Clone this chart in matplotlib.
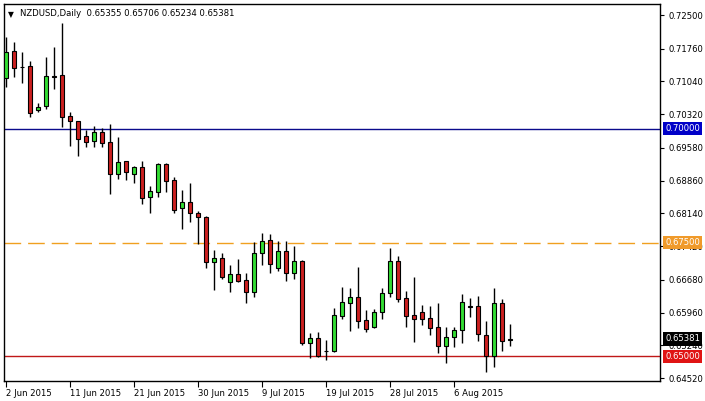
import matplotlib
matplotlib.use('Agg')
import matplotlib.pyplot as plt
from matplotlib.ticker import FixedLocator, FixedFormatter

# NZDUSD daily bars (broker with Sunday bars), 2 Jun 2015 .. 14 Aug 2015
opens = [0.71109, 0.71709, 0.71368, 0.71379, 0.70406, 0.70493, 0.71170, 0.71175,
         0.70280, 0.70164, 0.69841, 0.69724, 0.69922, 0.69702, 0.68999, 0.69285,
         0.68999, 0.69153, 0.68493, 0.68617, 0.69225, 0.68874, 0.68269, 0.68386,
         0.68148, 0.68054, 0.67078, 0.67153, 0.66625, 0.66801, 0.66676, 0.66419,
         0.67263, 0.67548, 0.66933, 0.67313, 0.66823, 0.67093, 0.65298, 0.65395,
         0.65126, 0.65122, 0.65891, 0.66177, 0.66302, 0.65790, 0.65650, 0.65966,
         0.66384, 0.67093, 0.66274, 0.65907, 0.65968, 0.65834, 0.65636, 0.65232,
         0.65417, 0.65570, 0.66095, 0.66104, 0.65467, 0.65012, 0.66164, 0.65355]
highs = [0.72023, 0.71913, 0.71693, 0.71489, 0.70559, 0.71584, 0.71790, 0.72318,
         0.70368, 0.70170, 0.69973, 0.70067, 0.70010, 0.70111, 0.69825, 0.69296,
         0.69188, 0.69285, 0.68735, 0.69241, 0.69241, 0.68929, 0.68654, 0.68814,
         0.68186, 0.68082, 0.67335, 0.67263, 0.67006, 0.67137, 0.66823, 0.67518,
         0.67715, 0.67687, 0.67533, 0.67533, 0.67423, 0.67115, 0.65504, 0.65540,
         0.65351, 0.66054, 0.66515, 0.66493, 0.66955, 0.66017, 0.66032, 0.66493,
         0.67386, 0.67203, 0.66434, 0.66742, 0.66126, 0.66111, 0.66177, 0.65636,
         0.65650, 0.66368, 0.66274, 0.66324, 0.65781, 0.66493, 0.66252, 0.65706]
lows = [0.70924, 0.71144, 0.71012, 0.70252, 0.70375, 0.70428, 0.70867, 0.70045,
        0.69628, 0.69408, 0.69592, 0.69606, 0.69606, 0.68573, 0.68889, 0.68874,
        0.68801, 0.68353, 0.68142, 0.68496, 0.68617, 0.68155, 0.67801, 0.67946,
        0.67467, 0.66933, 0.66456, 0.66698, 0.66419, 0.66638, 0.66177, 0.66309,
        0.67006, 0.66823, 0.66874, 0.66660, 0.66691, 0.65247, 0.64955, 0.64990,
        0.64924, 0.65100, 0.65812, 0.65562, 0.65614, 0.65540, 0.65628, 0.65819,
        0.66309, 0.66199, 0.65650, 0.65320, 0.65687, 0.65467, 0.65078, 0.64858,
        0.65210, 0.65285, 0.65856, 0.65342, 0.64660, 0.64757, 0.65122, 0.65234]
closes = [0.71693, 0.71342, 0.71357, 0.70340, 0.70478, 0.71153, 0.71148, 0.70265,
          0.70164, 0.69768, 0.69715, 0.69922, 0.69693, 0.68999, 0.69276, 0.69043,
          0.69153, 0.68485, 0.68625, 0.69225, 0.68858, 0.68225, 0.68386, 0.68142,
          0.68054, 0.67078, 0.67159, 0.66748, 0.66801, 0.66660, 0.66419, 0.67263,
          0.67533, 0.67021, 0.67313, 0.66823, 0.67093, 0.65298, 0.65395, 0.65006,
          0.65115, 0.65900, 0.66192, 0.66302, 0.65781, 0.65606, 0.65973, 0.66384,
          0.67093, 0.66258, 0.65891, 0.65812, 0.65825, 0.65628, 0.65232, 0.65417,
          0.65577, 0.66192, 0.66088, 0.65482, 0.65012, 0.66164, 0.65342, 0.65381]

date_labels = ['2 Jun 2015', '11 Jun 2015', '21 Jun 2015', '30 Jun 2015',
               '9 Jul 2015', '19 Jul 2015', '28 Jul 2015', '6 Aug 2015']
date_positions = [0, 8, 16, 24, 32, 40, 48, 56]
price_ticks = [0.72500, 0.71760, 0.71040, 0.70320, 0.69580, 0.68860,
               0.68140, 0.67420, 0.66680, 0.65960, 0.65240, 0.64520]
level_prices = [0.70000, 0.67500, 0.65000]
level_colors = ['#0A0A8C', '#F0A020', '#C01818']
level_styles = ['-', (0, (12, 5)), '-']
label_bg = ['#0000C8', '#F09A2A', '#E01414']
last_price = 0.65381
title = 'NZDUSD,Daily  0.65355 0.65706 0.65234 0.65381'
fs = 6.1

fig = plt.figure(figsize=(7.05, 4.01), dpi=100)
fig.patch.set_facecolor('white')
ax = fig.add_axes([4 / 705, 20 / 401, 656 / 705, 377 / 401])
ax.set_xlim(-0.25, 81.75)
ax.set_ylim(0.64456, 0.72742)

# levels
for p, c, ls in zip(level_prices, level_colors, level_styles):
    ax.axhline(p, color=c, lw=1.0, linestyle=ls, zorder=1)

# candles
x = list(range(len(opens)))
ax.vlines(x, lows, highs, color='black', lw=1.0, zorder=2)
for i in x:
    o, c = opens[i], closes[i]
    col = '#33DD33' if c > o else '#CC2020'
    h = c - o
    if abs(h) < 0.00005:
        ax.hlines(o, i - 0.32, i + 0.32, color='black', lw=1.2, zorder=3)
    else:
        ax.bar(i, h, bottom=o, width=0.6, color=col, edgecolor='black', lw=0.8, zorder=3)

for s in ax.spines.values():
    s.set_color('black')
    s.set_linewidth(1.0)

ax.yaxis.tick_right()
ax.yaxis.set_major_locator(FixedLocator(price_ticks))
ax.yaxis.set_major_formatter(FixedFormatter(['%.5f' % t for t in price_ticks]))
ax.tick_params(axis='y', direction='out', length=3, width=0.8, pad=3, labelsize=fs)
ax.set_xticks(date_positions)
ax.set_xticklabels(date_labels, ha='left')
ax.tick_params(axis='x', direction='out', length=4, width=0.8, pad=2, labelsize=fs)

# right price labels
ytr = ax.get_yaxis_transform()
for p, bg in zip(level_prices, label_bg):
    ax.text(1.008, p, '%.5f' % p, transform=ytr, ha='left', va='center', fontsize=fs,
            color='white', clip_on=False, zorder=5,
            bbox=dict(boxstyle='square,pad=0.25', fc=bg, ec='none'))
ax.text(1.008, last_price, '%.5f' % last_price, transform=ytr, ha='left', va='center',
        fontsize=fs, color='white', clip_on=False, zorder=5,
        bbox=dict(boxstyle='square,pad=0.25', fc='black', ec='none'))

ax.text(0.006, 0.985, '\u25BC', transform=ax.transAxes, ha='left', va='top', fontsize=5.5)
ax.text(0.024, 0.988, title, transform=ax.transAxes, ha='left', va='top', fontsize=fs)

fig.savefig('out.png', dpi=100, facecolor='white')
